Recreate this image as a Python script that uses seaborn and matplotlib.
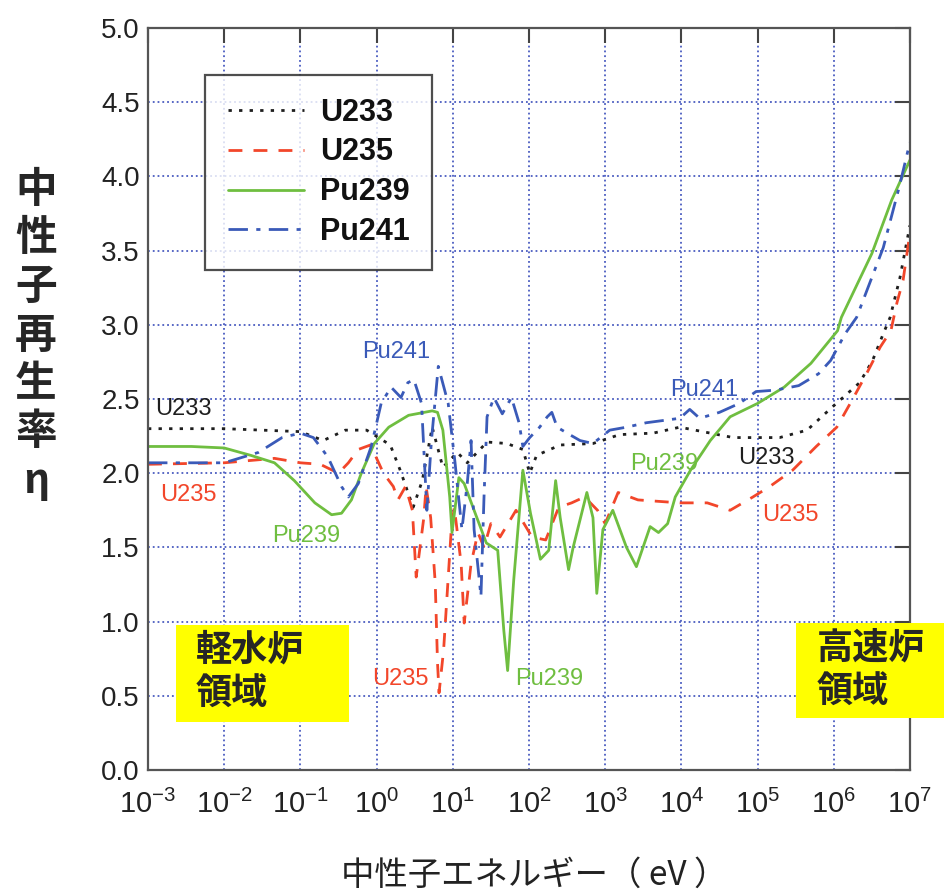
import numpy as np
import pandas as pd
import seaborn as sns
import matplotlib.pyplot as plt
from matplotlib.patches import Rectangle

# log10(E/eV) and eta
u233_logE = [-3, -2, -1, -0.70, -0.41, -0.13, 0.18, 0.31, 0.48, 0.60, 0.73, 0.87, 1.06, 1.19,
             1.45, 1.71, 1.92, 2.01, 2.10, 2.41, 2.84, 3.19, 3.63, 3.98, 4.68, 5.29, 5.65,
             5.99, 6.34, 6.51, 6.65, 6.74, 6.87, 7.0]
u233_eta = [2.30, 2.30, 2.28, 2.22, 2.29, 2.29, 2.19, 2.02, 1.77, 1.95, 2.31, 2.04, 2.14, 2.07,
            2.21, 2.20, 2.16, 2.00, 2.12, 2.19, 2.20, 2.26, 2.27, 2.31, 2.24, 2.24, 2.29,
            2.45, 2.61, 2.76, 2.94, 3.05, 3.32, 3.67]

u235_logE = [-3, -2, -1.34, -1, -0.74, -0.50, -0.37, -0.24, -0.08, 0.09, 0.22, 0.28, 0.38, 0.47,
             0.52, 0.62, 0.65, 0.71, 0.77, 0.80, 0.82, 0.88, 0.98, 1.02, 1.11, 1.15, 1.24, 1.33,
             1.41, 1.50, 1.62, 1.83, 2.04, 2.22, 2.39, 2.56, 2.73, 2.90, 3.00, 3.17, 3.43, 3.98,
             4.34, 4.64, 4.94, 5.16, 5.46, 5.77, 6.04, 6.26, 6.44, 6.61, 6.75, 6.83, 6.91, 7.0]
u235_eta = [2.06, 2.07, 2.10, 2.07, 2.06, 2.00, 2.07, 2.16, 2.19, 2.00, 1.91, 1.82, 1.91, 1.75,
            1.30, 1.70, 1.91, 1.70, 1.26, 0.72, 0.52, 0.81, 1.62, 1.77, 1.39, 0.99, 1.39, 1.60,
            1.50, 1.66, 1.57, 1.75, 1.57, 1.55, 1.77, 1.80, 1.84, 1.75, 1.66, 1.87, 1.82, 1.80,
            1.80, 1.75, 1.84, 1.91, 2.02, 2.18, 2.31, 2.51, 2.68, 2.85, 2.96, 3.15, 3.30, 3.62]

pu239_logE = [-3, -2.43, -2, -1.65, -1.34, -1.08, -0.81, -0.59, -0.46, -0.33, -0.20, -0.03,
              0.16, 0.42, 0.73, 0.80, 0.87, 0.96, 0.99, 1.08, 1.15, 1.28, 1.44, 1.59, 1.67,
              1.72, 1.80, 1.92, 2.02, 2.15, 2.26, 2.35, 2.41, 2.52, 2.58, 2.76, 2.84, 2.89,
              2.97, 3.10, 3.28, 3.41, 3.59, 3.70, 3.82, 3.92, 4.12, 4.38, 4.64, 5.00, 5.35,
              5.70, 6.05, 6.10, 6.50, 6.76, 7.0]
pu239_eta = [2.18, 2.18, 2.17, 2.12, 2.07, 1.95, 1.80, 1.72, 1.73, 1.82, 2.00, 2.20,
             2.31, 2.39, 2.42, 2.41, 2.29, 1.84, 1.60, 1.97, 1.93, 1.75, 1.53, 1.48, 0.94,
             0.67, 1.28, 2.02, 1.73, 1.42, 1.48, 1.95, 1.70, 1.35, 1.50, 1.87, 1.70, 1.19,
             1.62, 1.75, 1.50, 1.37, 1.64, 1.60, 1.66, 1.84, 2.02, 2.22, 2.38, 2.47, 2.58,
             2.74, 2.96, 3.05, 3.48, 3.84, 4.11]

pu241_logE = [-3, -2.34, -2, -1.55, -1.24, -1, -0.83, -0.64, -0.46, -0.37, -0.24, -0.07, 0.06,
              0.19, 0.32, 0.41, 0.49, 0.59, 0.66, 0.72, 0.81, 0.94, 1.03, 1.12, 1.19, 1.24,
              1.28, 1.37, 1.41, 1.45, 1.54, 1.65, 1.77, 1.87, 1.92, 2.01, 2.14, 2.24, 2.30,
              2.37, 2.50, 2.67, 2.84, 3.06, 3.28, 3.54, 3.98, 4.11, 4.24, 4.50, 4.76, 4.98,
              5.24, 5.54, 5.80, 5.96, 6.15, 6.30, 6.65, 6.86, 7.0]
pu241_eta = [2.07, 2.07, 2.07, 2.14, 2.24, 2.27, 2.24, 2.11, 1.91, 1.84, 1.93, 2.18, 2.47,
             2.58, 2.51, 2.61, 2.63, 2.47, 1.75, 2.22, 2.72, 2.47, 2.07, 1.62, 1.93, 2.22,
             1.62, 1.17, 1.84, 2.38, 2.51, 2.40, 2.51, 2.34, 2.18, 2.24, 2.31, 2.38, 2.41,
             2.31, 2.27, 2.22, 2.20, 2.29, 2.31, 2.34, 2.37, 2.43, 2.37, 2.41, 2.47, 2.55,
             2.56, 2.59, 2.67, 2.76, 2.94, 3.05, 3.52, 3.93, 4.23]

names = ["U233", "U235", "Pu239", "Pu241"]
colors = ["#1e1e1e", "#f2462a", "#6fbe40", "#3a5ab8"]
styles = [(0, (1.2, 2.6)), (0, (5, 4)), "-", (0, (7, 3, 1.5, 3))]
series = [(u233_logE, u233_eta), (u235_logE, u235_eta),
          (pu239_logE, pu239_eta), (pu241_logE, pu241_eta)]

# label positions (log10 E, eta) for the in-plot names
label_names = ["U233", "U235", "Pu239", "Pu241", "U235", "Pu239", "Pu241", "Pu239", "U233", "U235"]
label_logE = [-2.91, -2.84, -1.37, -0.19, -0.06, 1.82, 3.85, 3.33, 4.74, 5.06]
label_eta = [2.43, 1.85, 1.58, 2.82, 0.61, 0.61, 2.56, 2.06, 2.10, 1.72]

sns.set_style("white")
plt.rcParams["font.family"] = ["Liberation Sans", "Noto Sans CJK JP", "DejaVu Sans"]
plt.rcParams["mathtext.fontset"] = "custom"
plt.rcParams["mathtext.rm"] = "Liberation Sans"

fig = plt.figure(figsize=(9.45, 8.92), dpi=100)
ax = fig.add_axes([0.1566, 0.1368, 0.8063, 0.8318])

for name, col, ls, (lx, ly) in zip(names, colors, styles, series):
    df = pd.DataFrame({"E": np.power(10.0, lx), "eta": ly})
    sns.lineplot(data=df, x="E", y="eta", ax=ax, color=col, linestyle=ls,
                 linewidth=2.0, sort=False, estimator=None, label=name)

ax.set_xscale("log")
ax.set_xlim(1e-3, 1e7)
ax.set_ylim(0, 5)
ax.set_yticks(np.arange(0, 5.01, 0.5))
ax.set_yticklabels([f"{v:.1f}" for v in np.arange(0, 5.01, 0.5)], fontsize=20, color="#222222")
ax.set_xticks([10.0 ** k for k in range(-3, 8)])
ax.set_xticklabels([f"$10^{{{k}}}$" for k in range(-3, 8)], fontsize=21, color="#222222")
ax.grid(True, which="major", color="#4a5cc0", linestyle=":", linewidth=1.3)
ax.tick_params(which="major", direction="in", top=True, right=True, length=11, width=1.5,
               color="#444444", pad=6)
ax.tick_params(axis="x", which="major", pad=14)
ax.tick_params(axis="x", which="minor", direction="in", top=True, bottom=True, length=6,
               width=1.0, color="#444444")
ax.tick_params(axis="y", which="minor", left=False, right=False)
for s in ax.spines.values():
    s.set_color("#555555")
    s.set_linewidth(1.6)
ax.set_xlabel("")
ax.set_ylabel("")

leg = ax.legend(loc="upper left", bbox_to_anchor=(0.075, 0.937), fontsize=22,
                frameon=True, fancybox=False, edgecolor="#222222", handlelength=2.5,
                labelspacing=0.32, borderpad=0.75, handletextpad=0.5, borderaxespad=0)
leg.get_frame().set_linewidth(1.6)
for t in leg.get_texts():
    t.set_fontweight("bold")
    t.set_color("#111111")

for txt, lx, ly in zip(label_names, label_logE, label_eta):
    col = colors[names.index(txt)]
    ax.text(10.0 ** lx, ly, txt, color=col, fontsize=17, ha="left", va="center")

# vertical y label
for i, ch in enumerate("中性子再生率η"):
    fig.text(0.038, 1 - (190 + i * 48.5) / 892, ch, fontsize=30, fontweight="bold",
             ha="center", va="center", family=["Noto Sans CJK JP", "DejaVu Sans"])

fig.text(0.565, 1 - 875 / 892, "中性子エネルギー（ eV ）", fontsize=24, ha="center", va="center",
         family=["Noto Sans CJK JP", "DejaVu Sans"], color="#222222")

# yellow region boxes
fig.patches.append(Rectangle((176 / 945, 1 - 722 / 892), 173 / 945, 97 / 892,
                             transform=fig.transFigure, facecolor="#ffff00", edgecolor="none",
                             zorder=5))
fig.patches.append(Rectangle((796 / 945, 1 - 718 / 892), 149 / 945, 95 / 892,
                             transform=fig.transFigure, facecolor="#ffff00", edgecolor="none",
                             zorder=5))
fig.text(196 / 945, 1 - 672 / 892, "軽水炉\n領域", fontsize=26, fontweight="bold", ha="left",
         va="center", linespacing=1.25, family=["Noto Sans CJK JP"], zorder=6)
fig.text(817 / 945, 1 - 670 / 892, "高速炉\n領域", fontsize=26, fontweight="bold", ha="left",
         va="center", linespacing=1.25, family=["Noto Sans CJK JP"], zorder=6)

plt.savefig("out.png", dpi=100)
